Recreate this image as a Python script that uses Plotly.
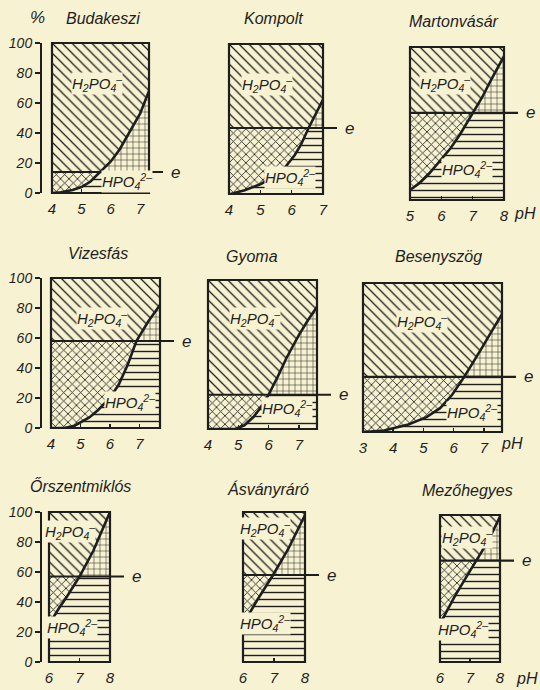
import plotly.graph_objects as go

# ---------------- data ----------------
names = ["Budakeszi", "Kompolt", "Martonvásár", "Vizesfás", "Gyoma",
         "Besenyszög", "Őrszentmiklós", "Ásványráró", "Mezőhegyes"]

ph_budakeszi = [4.0, 4.3, 4.7, 5.0, 5.3, 5.65, 6.0, 6.3, 6.6, 7.0, 7.3]
hpo4_budakeszi = [0, 0.5, 2, 4, 7.5, 14, 21, 29, 39, 53, 68]

ph_kompolt = [4.0, 4.05, 4.5, 5.0, 5.5, 5.8, 6.1, 6.3, 6.54, 6.8, 7.0]
hpo4_kompolt = [0, 0, 2.5, 6.5, 12, 18, 26, 33, 44, 55, 63]

ph_martonvasar = [5.0, 5.3, 5.6, 6.0, 6.3, 6.6, 7.0, 7.3, 7.6, 8.0]
hpo4_martonvasar = [6.5, 11, 17, 27, 34, 43, 57, 67, 79, 94]

ph_vizesfas = [4.0, 4.45, 4.8, 5.0, 5.3, 5.6, 6.0, 6.3, 6.6, 6.9, 7.3, 7.7]
hpo4_vizesfas = [0, 0, 1.5, 3.5, 7, 12, 20, 29, 42, 58, 71, 82]

ph_gyoma = [4.0, 4.9, 5.2, 5.5, 5.8, 6.0, 6.3, 6.6, 7.0, 7.3, 7.6]
hpo4_gyoma = [0, 0, 2.5, 8, 16, 23, 35, 48, 63, 73, 82]

ph_besenyszog = [3.0, 3.7, 4.5, 5.1, 5.55, 5.95, 6.35, 6.6, 6.95, 7.3, 7.6]
hpo4_besenyszog = [0, 1, 5, 10, 16, 25, 37, 45, 57, 69, 79]

ph_orszentmiklos = [6.0, 6.3, 6.6, 7.0, 7.45, 8.0]
hpo4_orszentmiklos = [25, 35, 44, 57, 74, 100]

ph_asvanyraro = [6.0, 6.45, 6.97, 7.45, 8.0]
hpo4_asvanyraro = [25, 41, 58, 75, 98]

ph_mezohegyes = [6.0, 6.5, 7.0, 7.22, 7.6, 8.0]
hpo4_mezohegyes = [26, 45, 62, 69, 82, 99]

e_levels = [14, 44, 57, 58, 23, 37, 57, 58, 69]

x_ranges = [[4, 7.3], [4, 7], [5, 8], [4, 7.7], [4, 7.6], [3, 7.6],
            [6, 8], [6, 8], [6, 8]]
x_ticks = [[4, 5, 6, 7], [4, 5, 6, 7], [5, 6, 7, 8], [4, 5, 6, 7],
           [4, 5, 6, 7], [3, 4, 5, 6, 7], [6, 7, 8], [6, 7, 8], [6, 7, 8]]
y_ticks = [0, 20, 40, 60, 80, 100]

ph_series = [ph_budakeszi, ph_kompolt, ph_martonvasar, ph_vizesfas, ph_gyoma,
             ph_besenyszog, ph_orszentmiklos, ph_asvanyraro, ph_mezohegyes]
hpo4_series = [hpo4_budakeszi, hpo4_kompolt, hpo4_martonvasar, hpo4_vizesfas,
               hpo4_gyoma, hpo4_besenyszog, hpo4_orszentmiklos,
               hpo4_asvanyraro, hpo4_mezohegyes]

# ---------------- layout (pixels in a 540x690 page) ----------------
W, H = 540, 690
boxes = [(52, 149, 43, 193), (229, 323, 44, 194), (410, 504, 47, 200),
         (51, 160, 278, 428), (208, 317, 280, 429), (363, 502, 283, 432),
         (49, 110, 512, 662), (243, 305, 512, 662), (440, 500, 515, 662)]
title_pos = [(103, 19), (273, 19), (454, 21), (98, 253), (252, 256),
             (438, 256), (80, 486), (268, 489), (467, 490)]
h2_pos = [(5.53, 73), (5.21, 73), (6.12, 76), (5.73, 73), (5.55, 74),
          (4.95, 74), (6.69, 87), (6.71, 89), (6.9, 85)]
hp_pos = [(6.55, 8), (5.95, 11), (6.82, 20), (6.68, 17), (6.61, 14),
          (6.6, 13), (6.75, 23), (6.71, 26), (6.77, 22)]
yaxis_panels = [0, 3, 6]

PAPER = "#f7f2d2"
INK = "#1e1e1e"
FONT = "Liberation Sans, DejaVu Sans, sans-serif"

fig = go.Figure()
layout = dict(width=W, height=H, margin=dict(l=0, r=0, t=0, b=0, pad=0),
              autosize=False,
              paper_bgcolor=PAPER, plot_bgcolor="rgba(0,0,0,0)",
              showlegend=False, hovermode=False,
              font=dict(family=FONT, color=INK, style="italic"))
shapes = []
annotations = []


def pat(shape, size, sol):
    return dict(shape=shape, size=size, solidity=sol, fgcolor=INK,
                bgcolor=PAPER, fillmode="replace")


def ann(**kw):
    d = dict(showarrow=False, xanchor="center", yanchor="middle")
    d.update(kw)
    annotations.append(d)


for i in range(9):
    n = "" if i == 0 else str(i + 1)
    xa, ya = "x" + n, "y" + n
    x0, x1, yt, yb = boxes[i]
    xs = ph_series[i]
    cs = hpo4_series[i]
    e = e_levels[i]
    lo = [min(c, e) for c in cs]
    hi = [max(c, e) for c in cs]
    top = [100] * len(xs)
    zero = [0] * len(xs)
    eline = [e] * len(xs)
    regions = [
        (lo, zero, pat("-", 7, 0.2)),            # HPO4 below e
        (eline, lo, pat("x", 6, 0.26)),           # H2PO4 below e
        (hi, eline, pat("+", 6, 0.16)),           # HPO4 above e
        (top, hi, pat("\\", 7, 0.18)),            # H2PO4 above e
    ]
    for up, dn, fp in regions:
        fig.add_trace(go.Scatter(
            x=list(xs) + list(xs[::-1]), y=list(up) + list(dn[::-1]),
            fill="toself", mode="lines", line=dict(width=0),
            fillpattern=fp, fillcolor=PAPER, hoverinfo="skip",
            xaxis=xa, yaxis=ya))
    fig.add_trace(go.Scatter(x=xs, y=cs, mode="lines",
                             line=dict(color=INK, width=2.6),
                             xaxis=xa, yaxis=ya, hoverinfo="skip"))

    layout["xaxis" + n] = dict(
        domain=[x0 / W, x1 / W], anchor=ya, range=x_ranges[i],
        tickvals=x_ticks[i], ticks="inside", ticklen=4, tickwidth=1.5,
        tickcolor=INK, showgrid=False, zeroline=False, showline=False,
        ticklabelstandoff=5, automargin=False, fixedrange=True,
        tickfont=dict(size=15, family=FONT, color=INK, style="italic"))
    ydict = dict(domain=[1 - yb / H, 1 - yt / H], range=[0, 100],
                 showgrid=False, zeroline=False, automargin=False,
                 fixedrange=True)
    if i in yaxis_panels:
        ydict.update(anchor="free", position=40 / W, showline=True,
                     linecolor=INK, linewidth=1.5, tickvals=y_ticks,
                     ticks="outside", ticklen=5, tickwidth=1.5,
                     tickcolor=INK,
                     tickfont=dict(size=14, family=FONT, color=INK,
                                   style="italic"))
    else:
        ydict.update(anchor=xa, visible=False)
    layout["yaxis" + n] = ydict

    shapes.append(dict(type="rect", xref=xa + " domain", yref=ya + " domain",
                       x0=0, x1=1, y0=0, y1=1,
                       line=dict(color=INK, width=2.2), layer="above"))
    shapes.append(dict(type="line", xref="paper", yref=ya,
                       x0=x0 / W, x1=(x1 + 14) / W, y0=e, y1=e,
                       line=dict(color=INK, width=2.2), layer="above"))
    ann(x=(x1 + 26) / W, y=e, xref="paper", yref=ya, text="e",
        font=dict(size=17, style="italic"))
    tx, ty = title_pos[i]
    ann(x=tx / W, y=1 - ty / H, xref="paper", yref="paper", text=names[i],
        font=dict(size=16, style="italic"))
    ann(x=h2_pos[i][0], y=h2_pos[i][1], xref=xa, yref=ya,
        text="H<sub>2</sub>PO<sub>4</sub><sup>–</sup>", bgcolor=PAPER,
        borderpad=0, font=dict(size=15, style="italic"))
    ann(x=hp_pos[i][0], y=hp_pos[i][1], xref=xa, yref=ya,
        text="HPO<sub>4</sub><sup>2–</sup>", bgcolor=PAPER, borderpad=0,
        font=dict(size=15, style="italic"))

ann(x=37 / W, y=1 - 18 / H, xref="paper", yref="paper", text="%",
    font=dict(size=17))
for px, py in [(525, 213), (512, 444), (527, 678)]:
    ann(x=px / W, y=1 - py / H, xref="paper", yref="paper", text="pH",
        font=dict(size=16, style="italic"))

layout["shapes"] = shapes
layout["annotations"] = annotations
fig.update_layout(**layout)
fig.write_html("out.html", config={"displayModeBar": False,
                                   "staticPlot": True},
               post_script="document.body.style.margin='0';"
                           "document.body.style.overflow='hidden';")
